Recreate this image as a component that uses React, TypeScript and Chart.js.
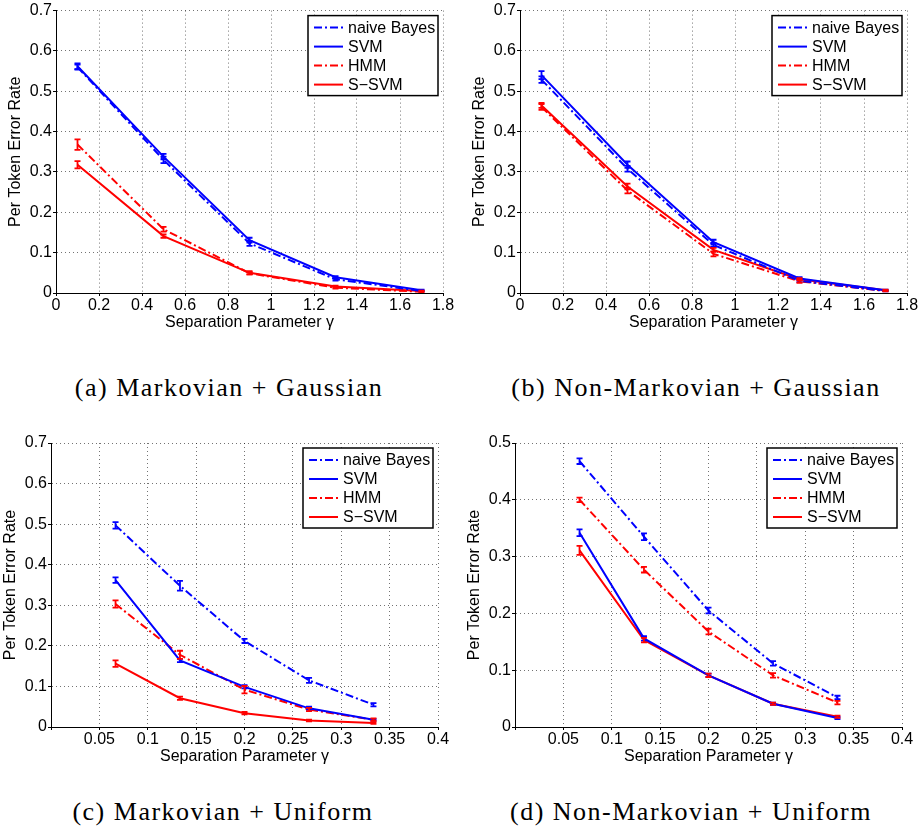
import React, { useEffect, useRef } from "react";
import { Chart, registerables } from "chart.js";

Chart.register(...registerables);

// ---------- Data ----------
const seriesLabels = ["naive Bayes", "SVM", "HMM", "S\u2212SVM"];
const seriesColors = ["#0000ff", "#0000ff", "#ff0000", "#ff0000"];

const xGauss = [0.1, 0.5, 0.9, 1.3, 1.7];
const xUnif = [0.0667, 0.1333, 0.2, 0.2667, 0.3333];

// (a) Markovian + Gaussian
const aNaiveBayes = [0.56, 0.33, 0.123, 0.034, 0.005];
const aSVM = [0.562, 0.338, 0.131, 0.039, 0.007];
const aHMM = [0.368, 0.158, 0.049, 0.013, 0.003];
const aSSVM = [0.318, 0.141, 0.05, 0.016, 0.005];
const aErrNB = [0.006, 0.008, 0.006, 0.003, 0.001];
const aErrSVM = [0.007, 0.007, 0.006, 0.003, 0.001];
const aErrHMM = [0.013, 0.006, 0.003, 0.002, 0.001];
const aErrSSVM = [0.009, 0.004, 0.004, 0.002, 0.001];

// (b) Non-Markovian + Gaussian
const bNaiveBayes = [0.529, 0.308, 0.119, 0.03, 0.005];
const bSVM = [0.54, 0.318, 0.126, 0.036, 0.007];
const bHMM = [0.461, 0.254, 0.097, 0.029, 0.005];
const bSSVM = [0.465, 0.264, 0.107, 0.034, 0.007];
const bErrNB = [0.008, 0.007, 0.005, 0.003, 0.001];
const bErrSVM = [0.01, 0.008, 0.006, 0.003, 0.001];
const bErrHMM = [0.007, 0.007, 0.006, 0.004, 0.001];
const bErrSSVM = [0.006, 0.007, 0.005, 0.003, 0.001];

// (c) Markovian + Uniform
const cNaiveBayes = [0.497, 0.348, 0.212, 0.115, 0.055];
const cSVM = [0.362, 0.164, 0.099, 0.046, 0.018];
const cHMM = [0.303, 0.178, 0.092, 0.043, 0.018];
const cSSVM = [0.156, 0.071, 0.034, 0.016, 0.01];
const cErrNB = [0.008, 0.012, 0.005, 0.006, 0.004];
const cErrSVM = [0.007, 0.004, 0.004, 0.004, 0.002];
const cErrHMM = [0.009, 0.01, 0.009, 0.004, 0.003];
const cErrSSVM = [0.008, 0.004, 0.003, 0.002, 0.002];

// (d) Non-Markovian + Uniform
const dNaiveBayes = [0.468, 0.335, 0.205, 0.112, 0.052];
const dSVM = [0.342, 0.156, 0.091, 0.041, 0.016];
const dHMM = [0.4, 0.277, 0.168, 0.091, 0.043];
const dSSVM = [0.311, 0.153, 0.091, 0.041, 0.018];
const dErrNB = [0.005, 0.006, 0.005, 0.004, 0.003];
const dErrSVM = [0.006, 0.004, 0.003, 0.002, 0.002];
const dErrHMM = [0.004, 0.005, 0.005, 0.004, 0.003];
const dErrSSVM = [0.008, 0.004, 0.003, 0.002, 0.002];

const captions = [
  "(a) Markovian + Gaussian",
  "(b) Non-Markovian + Gaussian",
  "(c) Markovian + Uniform",
  "(d) Non-Markovian + Uniform",
];

const xTitle = "Separation Parameter \u03b3";
const yTitle = "Per Token Error Rate";

// ---------- Styling / layout ----------
const FONT = "'Liberation Sans', Arial, Helvetica, sans-serif";
const DASHDOT = [8, 3, 2, 3];
const seriesDashes = [DASHDOT, [], DASHDOT, []];

type PanelSpec = {
  left: number;
  top: number;
  area: { l: number; r: number; t: number; b: number };
  xs: number[];
  ys: number[][];
  errs: number[][];
  xMax: number;
  xStep: number;
  yMax: number;
  hideZeroX: boolean;
  caption: string;
  capX: number;
  capY: number;
};

const W = 460;

const panels: PanelSpec[] = [
  {
    left: 0, top: 0, area: { l: 56, r: 443, t: 9, b: 293 },
    xs: xGauss, ys: [aNaiveBayes, aSVM, aHMM, aSSVM], errs: [aErrNB, aErrSVM, aErrHMM, aErrSSVM],
    xMax: 1.8, xStep: 0.2, yMax: 0.7, hideZeroX: false, caption: captions[0], capX: 229, capY: 388,
  },
  {
    left: 460, top: 0, area: { l: 60, r: 447, t: 9, b: 293 },
    xs: xGauss, ys: [bNaiveBayes, bSVM, bHMM, bSSVM], errs: [bErrNB, bErrSVM, bErrHMM, bErrSSVM],
    xMax: 1.8, xStep: 0.2, yMax: 0.7, hideZeroX: false, caption: captions[1], capX: 696, capY: 388,
  },
  {
    left: 0, top: 430, area: { l: 51, r: 438, t: 13, b: 297 },
    xs: xUnif, ys: [cNaiveBayes, cSVM, cHMM, cSSVM], errs: [cErrNB, cErrSVM, cErrHMM, cErrSSVM],
    xMax: 0.4, xStep: 0.05, yMax: 0.7, hideZeroX: true, caption: captions[2], capX: 223, capY: 812,
  },
  {
    left: 460, top: 430, area: { l: 55, r: 442, t: 13, b: 297 },
    xs: xUnif, ys: [dNaiveBayes, dSVM, dHMM, dSSVM], errs: [dErrNB, dErrSVM, dErrHMM, dErrSSVM],
    xMax: 0.4, xStep: 0.05, yMax: 0.5, hideZeroX: true, caption: captions[3], capX: 691, capY: 812,
  },
];

const fmt = (v: number) => String(+Number(v).toFixed(2));

const errorBarPlugin = {
  id: "errorBars",
  afterDatasetsDraw(chart: any) {
    const { ctx } = chart;
    const xs = chart.scales.x;
    const ys = chart.scales.y;
    ctx.save();
    chart.data.datasets.forEach((ds: any) => {
      const errs: number[] = ds.errorBars || [];
      ctx.strokeStyle = ds.borderColor;
      ctx.lineWidth = 1.8;
      ctx.setLineDash([]);
      ds.data.forEach((p: any, j: number) => {
        const e = errs[j] || 0;
        const px = xs.getPixelForValue(p.x);
        const y1 = ys.getPixelForValue(p.y - e);
        const y2 = ys.getPixelForValue(p.y + e);
        ctx.beginPath();
        ctx.moveTo(px, y1);
        ctx.lineTo(px, y2);
        ctx.moveTo(px - 3, y1);
        ctx.lineTo(px + 3, y1);
        ctx.moveTo(px - 3, y2);
        ctx.lineTo(px + 3, y2);
        ctx.stroke();
      });
    });
    ctx.restore();
  },
};

const boxLegendPlugin = {
  id: "boxLegend",
  afterDraw(chart: any) {
    const { ctx, chartArea } = chart;
    const w = 130;
    const h = 80;
    const x0 = chartArea.right - 5 - w;
    const y0 = chartArea.top + 5;
    ctx.save();
    ctx.fillStyle = "#ffffff";
    ctx.fillRect(x0, y0, w, h);
    ctx.strokeStyle = "#000000";
    ctx.lineWidth = 1.5;
    ctx.setLineDash([]);
    ctx.strokeRect(x0, y0, w, h);
    chart.data.datasets.forEach((ds: any, i: number) => {
      const y = y0 + 12 + i * 19;
      ctx.strokeStyle = ds.borderColor;
      ctx.lineWidth = 2;
      ctx.setLineDash(ds.borderDash || []);
      ctx.beginPath();
      ctx.moveTo(x0 + 6, y);
      ctx.lineTo(x0 + 35, y);
      ctx.stroke();
      ctx.setLineDash([]);
      ctx.fillStyle = "#000000";
      ctx.font = `16px ${FONT}`;
      ctx.textBaseline = "middle";
      ctx.textAlign = "left";
      ctx.fillText(ds.label, x0 + 40, y + 1);
    });
    ctx.restore();
  },
};

function Panel({ spec }: { spec: PanelSpec }) {
  const ref = useRef<HTMLCanvasElement>(null);
  const H = spec.area.b + 42;
  useEffect(() => {
    const gridOpts = {
      color: "rgba(0,0,0,0.55)",
      lineWidth: 1,
      drawTicks: true,
      tickLength: 3,
      tickColor: "#000000",
      tickBorderDash: [],
      tickWidth: 1,
    };
    const borderOpts = { display: true, color: "#000000", width: 1, dash: [1, 3] };
    const chart = new Chart(ref.current as HTMLCanvasElement, {
      type: "line",
      data: {
        datasets: spec.ys.map((ys, k) => ({
          label: seriesLabels[k],
          data: spec.xs.map((x, i) => ({ x, y: ys[i] })),
          borderColor: seriesColors[k],
          backgroundColor: seriesColors[k],
          borderDash: seriesDashes[k],
          borderWidth: 2,
          pointRadius: 0,
          tension: 0,
          fill: false,
          errorBars: spec.errs[k],
        })) as any,
      },
      options: {
        responsive: false,
        animation: false,
        devicePixelRatio: 1,
        layout: { padding: { left: 0, right: W - spec.area.r, top: spec.area.t, bottom: 0 } },
        plugins: { legend: { display: false }, tooltip: { enabled: false } },
        scales: {
          x: {
            type: "linear",
            min: 0,
            max: spec.xMax,
            ticks: {
              stepSize: spec.xStep,
              autoSkip: false,
              maxRotation: 0,
              padding: 0,
              color: "#000000",
              font: { family: FONT, size: 16 },
              callback: (v: any) => (spec.hideZeroX && Math.abs(v) < 1e-9 ? "" : fmt(v)),
            },
            grid: gridOpts as any,
            border: borderOpts as any,
            title: {
              display: true,
              text: xTitle,
              color: "#000000",
              font: { family: FONT, size: 16 },
              padding: { top: 0, bottom: 2.4 },
            },
            afterFit: (s: any) => {
              s.height = H - spec.area.b;
            },
          },
          y: {
            type: "linear",
            min: 0,
            max: spec.yMax,
            ticks: {
              stepSize: 0.1,
              padding: 1,
              color: "#000000",
              font: { family: FONT, size: 16 },
              callback: (v: any) => fmt(v),
            },
            grid: gridOpts as any,
            border: borderOpts as any,
            title: {
              display: true,
              text: yTitle,
              color: "#000000",
              font: { family: FONT, size: 16 },
              padding: { top: spec.area.l - 40 - 9.6, bottom: 0 },
            },
            afterFit: (s: any) => {
              s.width = spec.area.l;
            },
          },
        },
      } as any,
      plugins: [errorBarPlugin, boxLegendPlugin],
    });
    return () => chart.destroy();
  }, []);
  return (
    <canvas
      ref={ref}
      width={W}
      height={H}
      style={{ position: "absolute", left: spec.left, top: spec.top, width: W, height: H }}
    />
  );
}

export default function App() {
  return (
    <div
      style={{
        position: "absolute",
        left: 0,
        top: 0,
        width: 920,
        height: 839,
        background: "#ffffff",
        overflow: "hidden",
      }}
    >
      {panels.map((p, i) => (
        <Panel key={i} spec={p} />
      ))}
      {panels.map((p, i) => (
        <div
          key={"c" + i}
          style={{
            position: "absolute",
            left: p.capX - 220,
            top: p.capY - 16,
            width: 440,
            height: 32,
            lineHeight: "32px",
            textAlign: "center",
            fontFamily: "'Liberation Serif', 'Times New Roman', serif",
            fontSize: 26,
            letterSpacing: 1.5,
            color: "#000000",
            whiteSpace: "nowrap",
          }}
        >
          {p.caption}
        </div>
      ))}
    </div>
  );
}
